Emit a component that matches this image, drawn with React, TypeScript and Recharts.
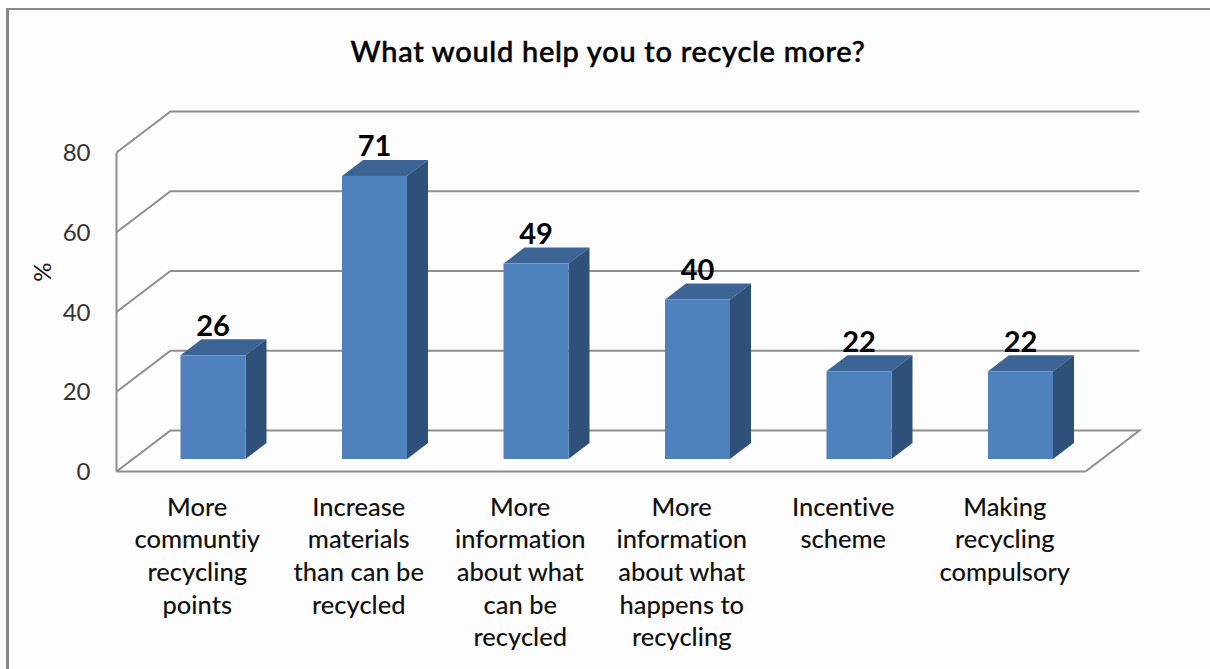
import { Bar, BarChart, CartesianGrid, LabelList, XAxis, YAxis } from 'recharts'

const categories = [
  'More|communtiy|recycling|points',
  'Increase|materials|than can be|recycled',
  'More|information|about what|can be|recycled',
  'More|information|about what|happens to|recycling',
  'Incentive|scheme',
  'Making|recycling|compulsory',
]
const values = [26, 71, 49, 40, 22, 22]
const yTicks = [0, 20, 40, 60, 80]

const data = categories.map((name, i) => ({ name, value: values[i] }))

const FONT = 'Lato, "Open Sans", sans-serif'
const LINE = '#8e8e8e'
// how far the back wall and the bars sit from the front plane
const WALL_DX = 54
const WALL_DY = 41
const BAR_DX = 16
const BAR_DY = 12.5
const DEPTH_X = 21
const DEPTH_Y = 16

function GridLine(props: any) {
  const { x1, x2, y1 } = props
  const floor = y1 > 400
  const d = `M${x1} ${y1}L${x1 + WALL_DX} ${y1 - WALL_DY}L${x2 + WALL_DX} ${y1 - WALL_DY}` +
    (floor ? `L${x2} ${y1}` : '')
  return <path d={d} fill="none" stroke={LINE} strokeWidth={2} />
}

function Box(props: any) {
  const { x, y, width, height } = props
  const l = x + BAR_DX
  const t = y - BAR_DY
  const r = l + width
  const b = t + height
  return (
    <g>
      <path d={`M${l} ${t}L${l + DEPTH_X} ${t - DEPTH_Y}L${r + DEPTH_X} ${t - DEPTH_Y}L${r} ${t}Z`} fill="#3c6494" />
      <path d={`M${r} ${t}L${r + DEPTH_X} ${t - DEPTH_Y}L${r + DEPTH_X} ${b - DEPTH_Y}L${r} ${b}Z`} fill="#2f5179" />
      <rect x={l} y={t} width={width} height={height} fill="#4f81bd" />
    </g>
  )
}

function ValueLabel(props: any) {
  const { x, y, width, value } = props
  return (
    <text x={x + BAR_DX + width / 2} y={y - BAR_DY - 19.5} textAnchor="middle" fontFamily={FONT} fontSize={29} fontWeight={700} fill="#000">
      {value}
    </text>
  )
}

function CategoryTick(props: any) {
  const { x, y, payload } = props
  const lines = String(payload.value).split('|')
  return (
    <text x={x} y={y} textAnchor="middle" fontFamily={FONT} fontSize={25.5} fontWeight={500} fill="#111" style={{ fontVariantLigatures: 'none' }}>
      {lines.map((line, i) => (
        <tspan key={line} x={x} dy={i === 0 ? 36 : 32.7}>
          {line}
        </tspan>
      ))}
    </text>
  )
}

export default function App() {
  return (
    <div style={{ position: 'absolute', left: 0, top: 0, width: 1210, height: 669, background: '#fdfdfd', overflow: 'hidden' }}>
      <div style={{ position: 'absolute', left: 6, top: 8, width: 1204, height: 661, borderLeft: '3px solid #888', borderTop: '2px solid #888', boxSizing: 'border-box' }} />
      <div style={{ position: 'absolute', left: 0, top: 0 }}>
        <BarChart
          width={1210}
          height={669}
          data={data}
          margin={{ top: 152.5, right: 124.5, bottom: 0, left: 0 }}
        >
          <text x={608} y={62} textAnchor="middle" fontFamily={FONT} fontSize={29} fontWeight={500} letterSpacing={0.7} fill="#000" stroke="#000" strokeWidth={0.5}>
            What would help you to recycle more?
          </text>
          <text transform="translate(51 272) rotate(-90)" textAnchor="middle" fontFamily={FONT} fontSize={24} fill="#111">
            %
          </text>
          <CartesianGrid vertical={false} horizontal={GridLine} />
          <XAxis
            dataKey="name"
            interval={0}
            height={197.5}
            tick={CategoryTick}
            tickLine={false}
            axisLine={{ stroke: LINE, strokeWidth: 2 }}
          />
          <YAxis
            domain={[0, 80]}
            ticks={yTicks}
            width={116.5}
            tickLine={false}
            tickMargin={20}
            tick={{ fill: '#333', fontSize: 24, fontFamily: FONT }}
            axisLine={{ stroke: LINE, strokeWidth: 2 }}
          />
          <Bar dataKey="value" barSize={65} shape={Box} isAnimationActive={false}>
            <LabelList dataKey="value" content={ValueLabel} />
          </Bar>
        </BarChart>
      </div>
    </div>
  )
}
